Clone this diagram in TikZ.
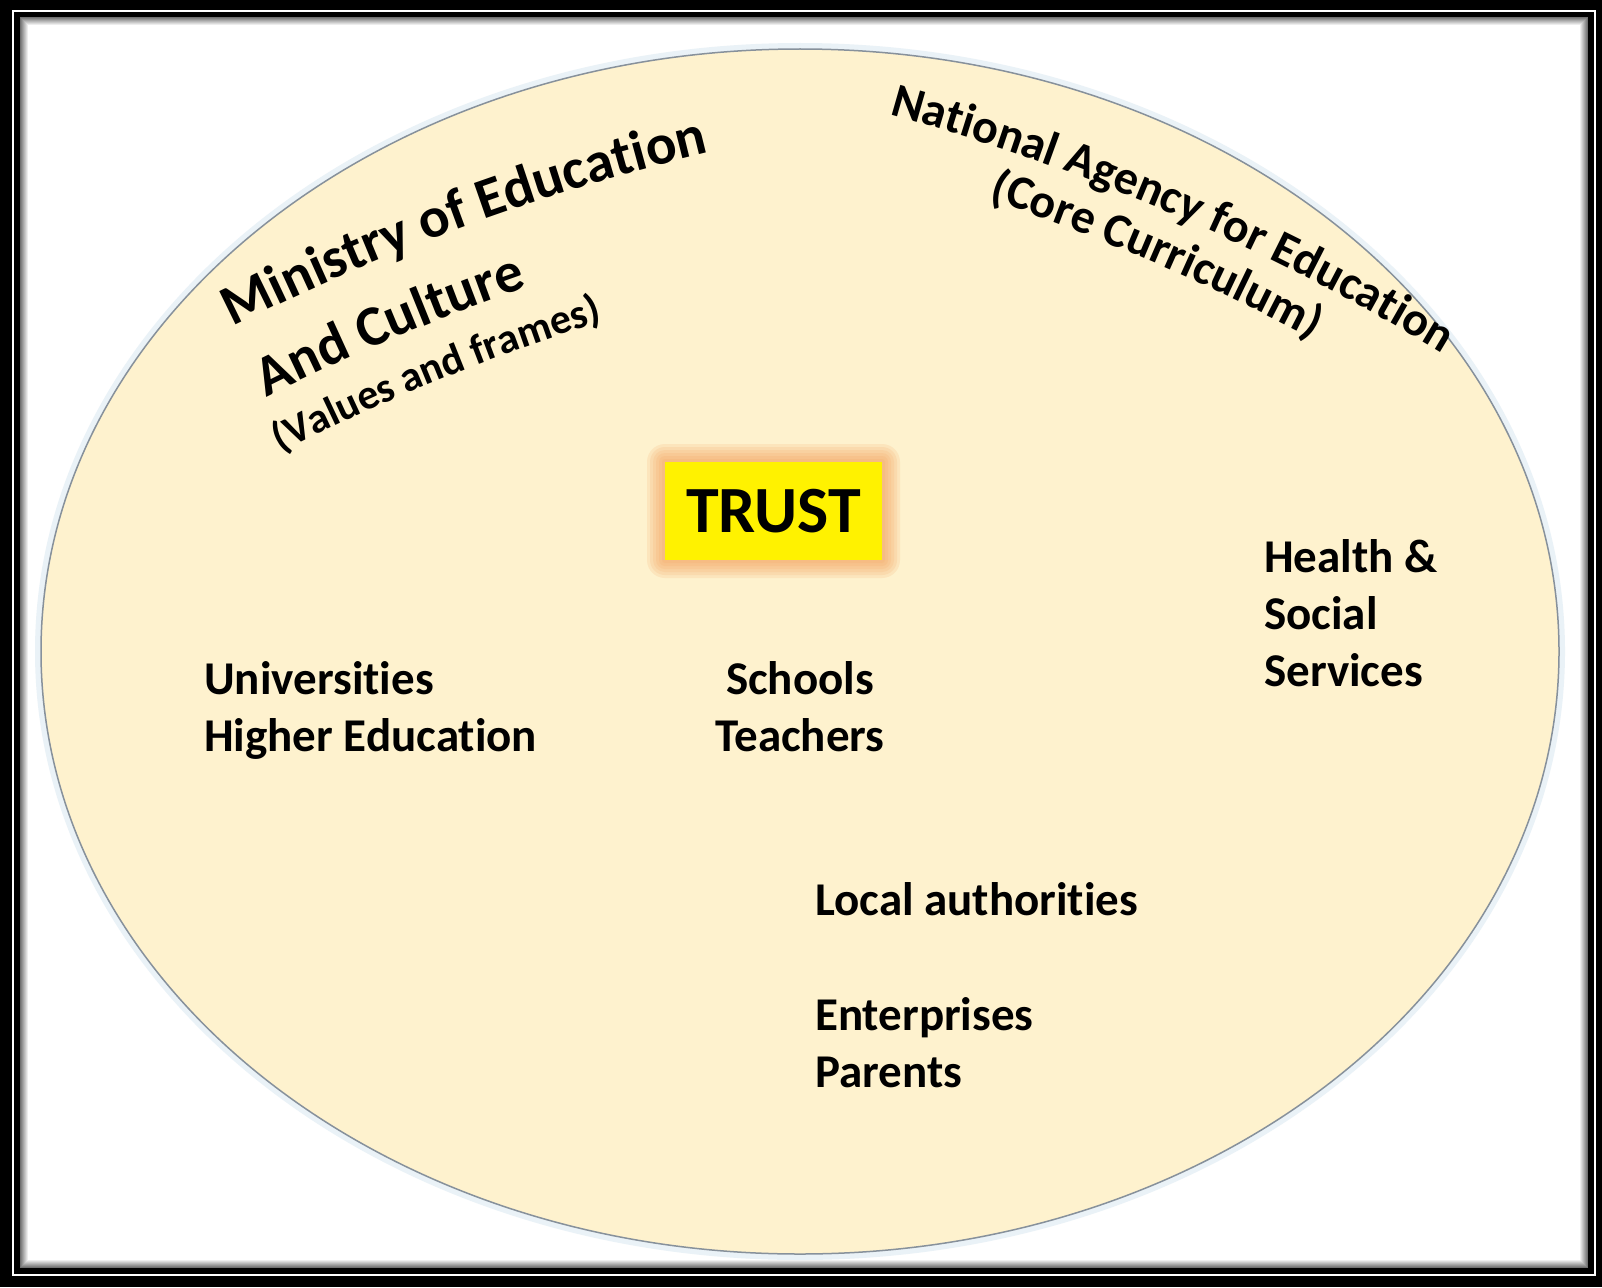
\documentclass[tikz,border=0pt]{standalone}
\usepackage{fontspec}
\setmainfont{Carlito}[Ligatures=NoCommon]
\usetikzlibrary{decorations.text}

\definecolor{ovalfill}{RGB}{254,242,206}
\definecolor{ovaledge}{RGB}{135,145,155}
\definecolor{ovalhalo}{RGB}{234,242,247}
\definecolor{glowc}{RGB}{244,158,88}

\newcommand\bigfont{\fontsize{57}{62}\selectfont\bfseries}
\newcommand\midfont{\fontsize{48}{54}\selectfont\bfseries}
\newcommand\smallfont{\fontsize{42}{48}\selectfont\bfseries}

\tikzset{
  actor/.style={font=\fontsize{47}{57}\selectfont\bfseries, inner sep=0pt, anchor=base west, align=left},
  trustbox/.style={fill=yellow, minimum width=217pt, minimum height=98pt, inner sep=0pt,
    font=\fontsize{66}{70}\selectfont\bfseries},
}

\begin{document}
\begin{tikzpicture}[x=1pt,y=-1pt]
  \useasboundingbox (0,0) rectangle (1602,1287);

  % Draw the frame
  \fill[black] (0,0) rectangle (1602,1287);
  \draw[white, line width=2pt] (13,11) rectangle (1595,1275);
  \fill[white] (20,17) rectangle (1588,1268);
  \foreach \s in {0,...,7}{
    \pgfmathtruncatemacro\shade{56-7*\s}
    \draw[black!\shade, line width=1pt] (20.5+\s,17.5+\s) rectangle (1587.5-\s,1267.5-\s);
  }

  % Define the centre and radii of the oval
  \def\cx{800}
  \def\cy{651.5}
  \def\rx{759}
  \def\ry{602.5}

  % Draw the oval
  \draw[ovalhalo, line width=8pt] (\cx,\cy) ellipse [x radius=\rx+2, y radius=\ry+2];
  \draw[ovaledge, fill=ovalfill, line width=1.5pt] (\cx,\cy) ellipse [x radius=\rx, y radius=\ry];

  % Glow round the trust box
  \foreach \g in {18,15,...,0}
    \fill[glowc, opacity=0.15, rounded corners=\g pt] (665-\g,462-\g) rectangle (882+\g,560+\g);

  \node[trustbox] (trust) at (773.5,511) {TRUST};

  % The actors (base is the last line)
  \node[actor] (univ) at (204,751) {Universities\\Higher Education};
  \node[actor, align=center, anchor=base] (schools) at (800,751) {Schools\\Teachers};
  \node[actor] (health) at (1264,686) {Health \&\\Social\\Services};
  \node[actor] (local) at (815,915) {Local authorities};
  \node[actor] (parents) at (815,1087) {Enterprises\\Parents};

  % Centres of the arched titles
  \coordinate (mcentre) at (1222,2292);
  \coordinate (ncentre) at (300.7,2233.8);

  % Ministry, arched and left aligned
  \path[decorate, decoration={text along path, text align=left,
      text={|\bigfont|Ministry of Education}}]
    ([shift={(-116.72:2200)}]mcentre) arc[start angle=-116.72, end angle=-96, radius=2200];
  \path[decorate, decoration={text along path, text align=left,
      text={|\bigfont|And Culture}}]
    ([shift={(-116.75:2122)}]mcentre) arc[start angle=-116.75, end angle=-100, radius=2122];
  \path[decorate, decoration={text along path, text align=left,
      text={|\smallfont|(Values and frames)}}]
    ([shift={(-117.1:2066)}]mcentre) arc[start angle=-117.1, end angle=-100, radius=2066];

  % National agency, arched and centred
  \path[decorate, decoration={text along path, text align=center,
      text={|\midfont|National Agency for Education}}]
    ([shift={(-81.61:2200)}]ncentre) arc[start angle=-81.61, end angle=-51.61, radius=2200];
  \path[decorate, decoration={text along path, text align=center,
      text={|\midfont|(Core Curriculum)}}]
    ([shift={(-81.61:2148)}]ncentre) arc[start angle=-81.61, end angle=-51.61, radius=2148];

\end{tikzpicture}
\end{document}
